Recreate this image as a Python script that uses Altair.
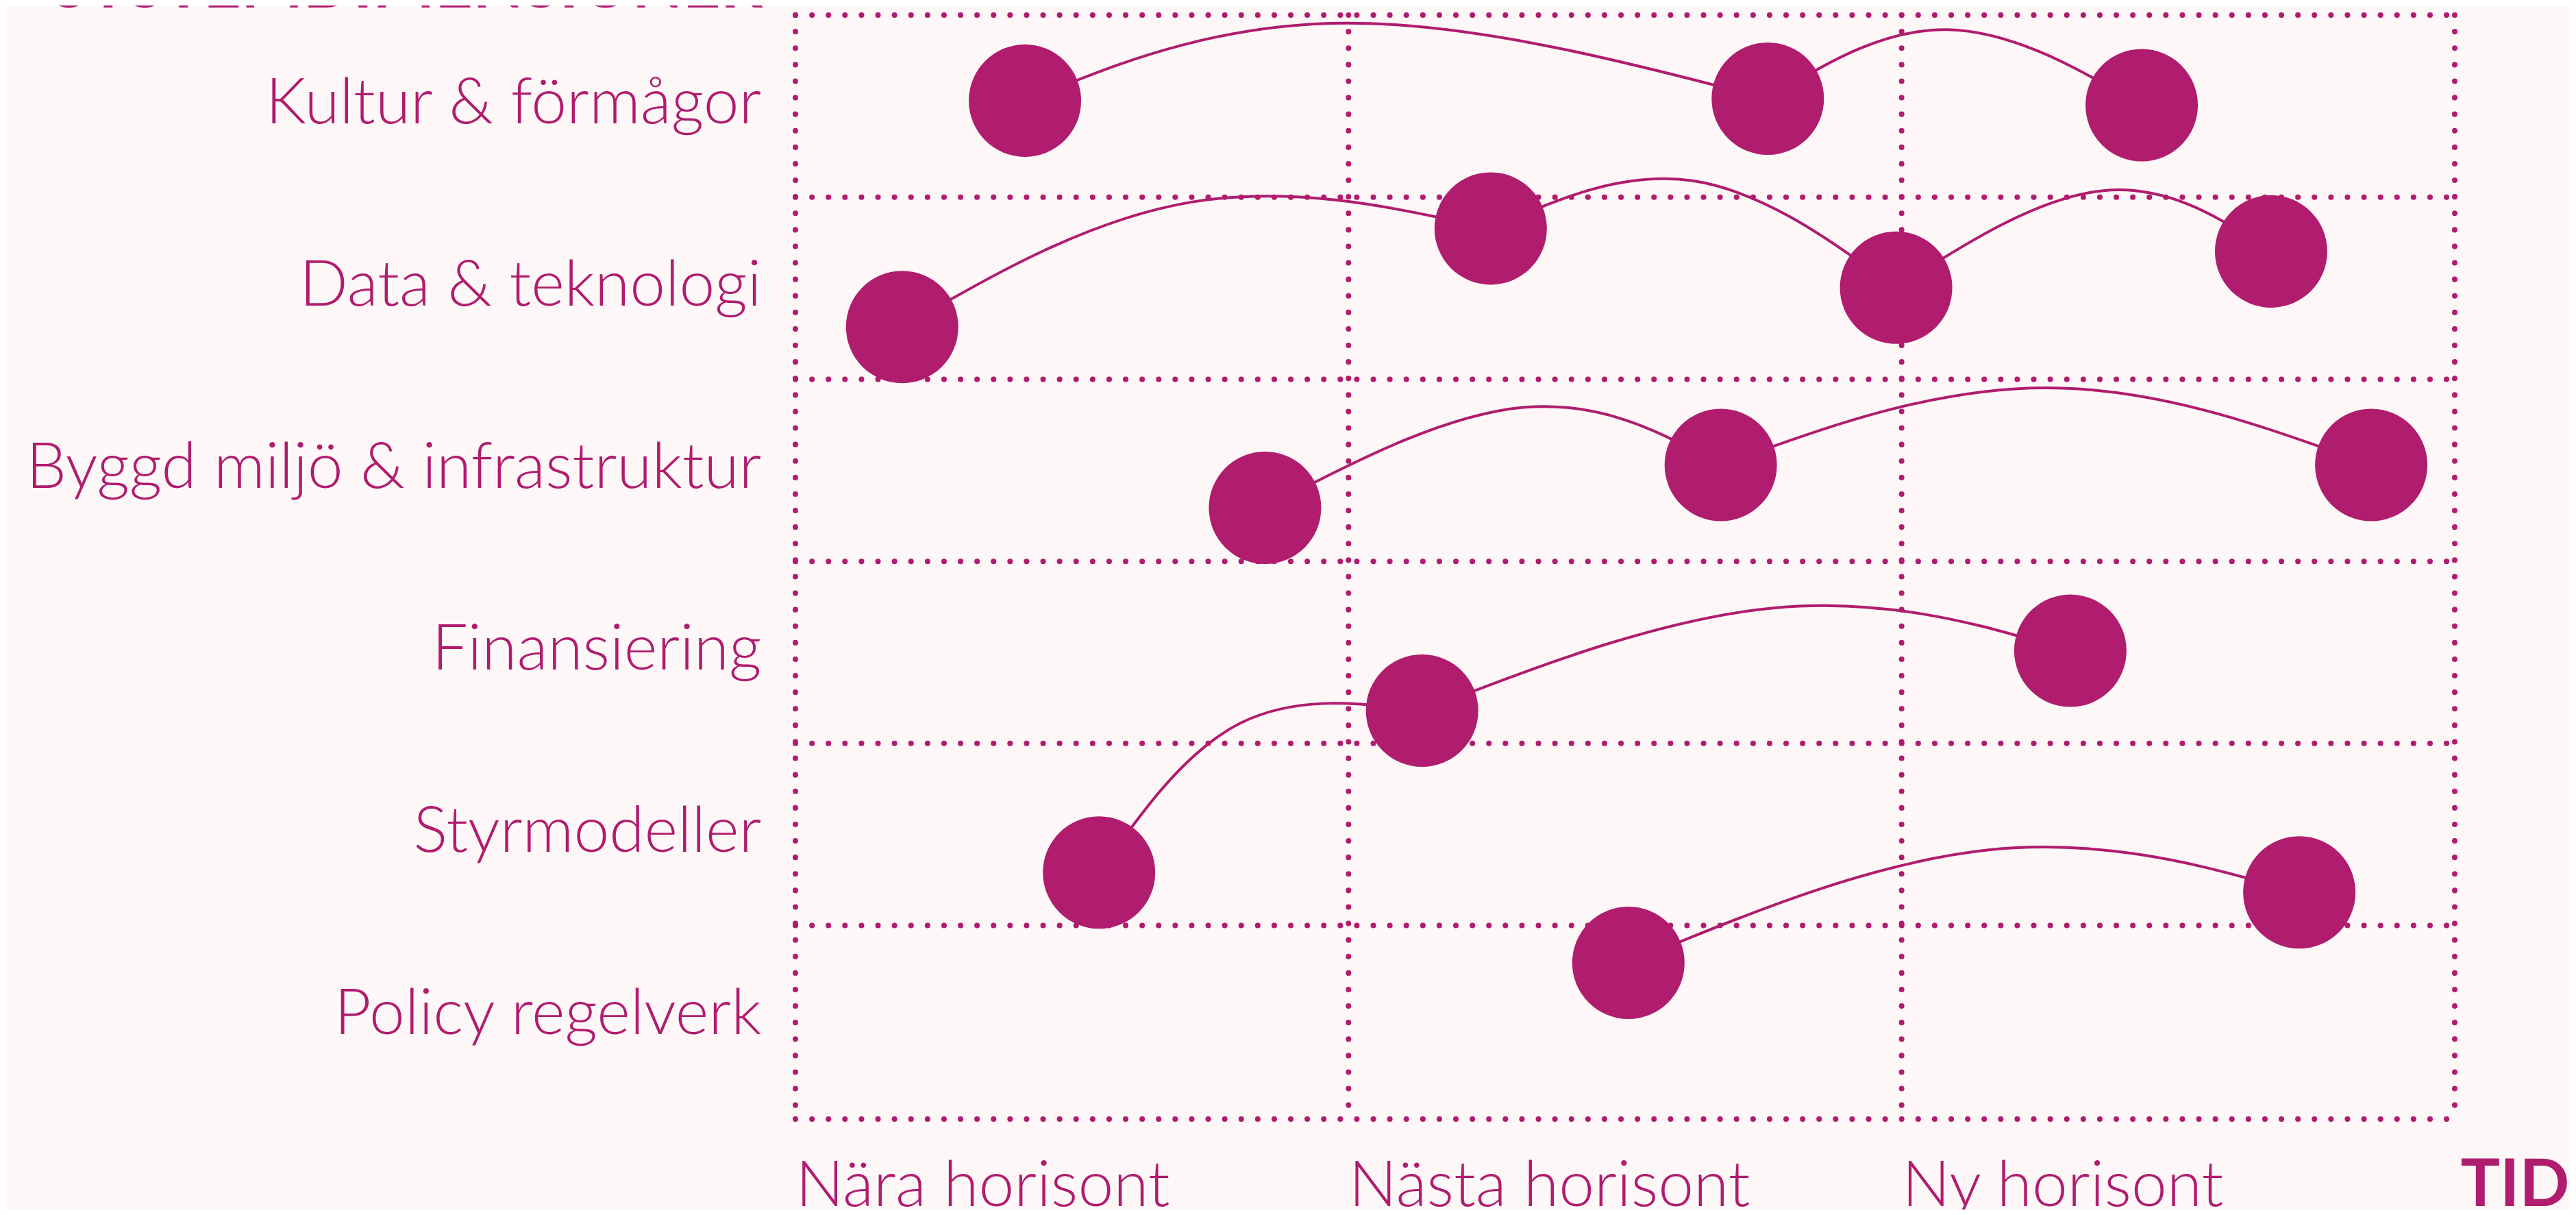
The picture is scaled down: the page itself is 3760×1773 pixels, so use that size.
import json
import altair as alt
import pandas as pd

PINK = "#B01C6E"
BG = "#FDF7F7"
FONT = "Lato"

# ---- data -------------------------------------------------------------
categories = [
    "Kultur & förmågor",
    "Data & teknologi",
    "Byggd miljö & infrastruktur",
    "Finansiering",
    "Styrmodeller",
    "Policy regelverk",
]
horizons = ["Nära horisont", "Nästa horisont", "Ny horisont"]
y_title = "SYSTEMDIMENSIONER"
x_title = "TID"

# milestones: x in horizon units (0..3), y in row units from the top (0..6)
point_x = [0.415, 1.758, 2.434,
           0.193, 1.257, 1.990, 2.668,
           0.849, 1.673, 2.849,
           1.133, 2.305,
           0.549,
           1.506, 2.719]
point_y = [0.470, 0.459, 0.495,
           1.713, 1.172, 1.497, 1.298,
           2.706, 2.471, 2.471,
           3.820, 3.491,
           4.709,
           5.205, 4.818]

# connections between milestones and the (read) mid-point of each arc
link_from = [0, 1, 3, 4, 5, 7, 8, 10, 12, 13]
link_to = [1, 2, 4, 5, 6, 8, 9, 11, 10, 14]
mid_x = [0.995, 2.083, 0.716, 1.622, 2.365, 1.315, 2.261, 1.771, 0.805, 2.157]
mid_y = [0.044, 0.080, 1.027, 0.910, 0.964, 2.155, 2.047, 3.255, 3.888, 4.585]

row_edges = [0, 1, 2, 3, 4, 5]
col_edges = [0, 1, 2, 3]
baseline_y = 6.063

# ---- tables -------------------------------------------------------------
pts = pd.DataFrame({"x": point_x, "y": point_y})

# each arc: start, control point of a B-spline passing through the mid-point, end
line_rows = []
for i, (a, b) in enumerate(zip(link_from, link_to)):
    cx = (6 * mid_x[i] - point_x[a] - point_x[b]) / 4
    cy = (6 * mid_y[i] - point_y[a] - point_y[b]) / 4
    line_rows.append({"link": i, "step": 0, "x": point_x[a], "y": point_y[a]})
    line_rows.append({"link": i, "step": 1, "x": cx, "y": cy})
    line_rows.append({"link": i, "step": 2, "x": point_x[b], "y": point_y[b]})
lines_df = pd.DataFrame(line_rows)

h_df = pd.DataFrame({"y": row_edges + [baseline_y],
                     "x0": [0] * (len(row_edges) + 1),
                     "x1": [len(horizons)] * (len(row_edges) + 1)})
v_df = pd.DataFrame({"x": col_edges,
                     "y0": [0] * len(col_edges),
                     "y1": [baseline_y] * len(col_edges)})

# ---- scales & axes ------------------------------------------------------
xs = alt.Scale(domain=[0, len(horizons)], nice=False, zero=False)
ys = alt.Scale(domain=[0, baseline_y], reverse=True, nice=False, zero=False)

x_axis = alt.Axis(
    values=list(range(len(horizons))),
    labelExpr=json.dumps(horizons, ensure_ascii=False) + "[round(datum.value)]",
    labelAlign="left", labelBaseline="alphabetic", labelPadding=126,
    labelFont=FONT, labelFontSize=93, labelFontWeight=300, labelColor=PINK,
    labelLimit=0, labelOverlap=False, labelFlush=False,
    ticks=False, tickSize=0, domain=False, grid=False,
    title=x_title, titleFont=FONT, titleFontSize=96, titleFontWeight="bold",
    titleColor=PINK, titleX=2589, titleY=126, titleAlign="right",
    titleBaseline="alphabetic", titleAngle=0,
)
y_axis = alt.Axis(
    values=[i + 0.5 for i in range(len(categories))],
    labelExpr=json.dumps(categories, ensure_ascii=False) + "[floor(datum.value)]",
    labelAlign="right", labelBaseline="alphabetic", labelOffset=25, labelPadding=50,
    labelFont=FONT, labelFontSize=93, labelFontWeight=300, labelColor=PINK,
    labelLimit=0, labelOverlap=False, labelFlush=False,
    ticks=False, tickSize=0, domain=False, grid=False,
    title=y_title, titleFont=FONT, titleFontSize=96, titleFontWeight="bold",
    titleColor=PINK, titleX=-48, titleY=-12, titleAlign="right",
    titleBaseline="alphabetic", titleAngle=0,
)

dots = dict(strokeDash=[0.1, 24], strokeCap="round", strokeWidth=8, color=PINK)

hrules = alt.Chart(h_df).mark_rule(**dots).encode(
    y=alt.Y("y:Q", scale=ys, axis=y_axis),
    x=alt.X("x0:Q", scale=xs, axis=x_axis),
    x2="x1:Q",
)
vrules = alt.Chart(v_df).mark_rule(**dots).encode(
    x=alt.X("x:Q", scale=xs, axis=x_axis),
    y=alt.Y("y0:Q", scale=ys, axis=y_axis),
    y2="y1:Q",
)
lines = alt.Chart(lines_df).mark_line(
    interpolate="basis", strokeWidth=4, color=PINK
).encode(
    x=alt.X("x:Q", scale=xs, axis=x_axis),
    y=alt.Y("y:Q", scale=ys, axis=y_axis),
    detail="link:N",
    order="step:Q",
)
points = alt.Chart(pts).mark_circle(size=164 * 164, opacity=1, color=PINK).encode(
    x=alt.X("x:Q", scale=xs, axis=x_axis),
    y=alt.Y("y:Q", scale=ys, axis=y_axis),
)

chart = alt.layer(hrules, vrules, lines, points).properties(
    width=2422,
    height=1611,
    autosize=alt.AutoSizeParams(type="none"),
    padding={"left": 1153, "top": 14, "right": 169, "bottom": 132},
    background=BG,
).configure_view(stroke=None)

chart.save("out.html", embed_options={"renderer": "svg", "actions": False})
